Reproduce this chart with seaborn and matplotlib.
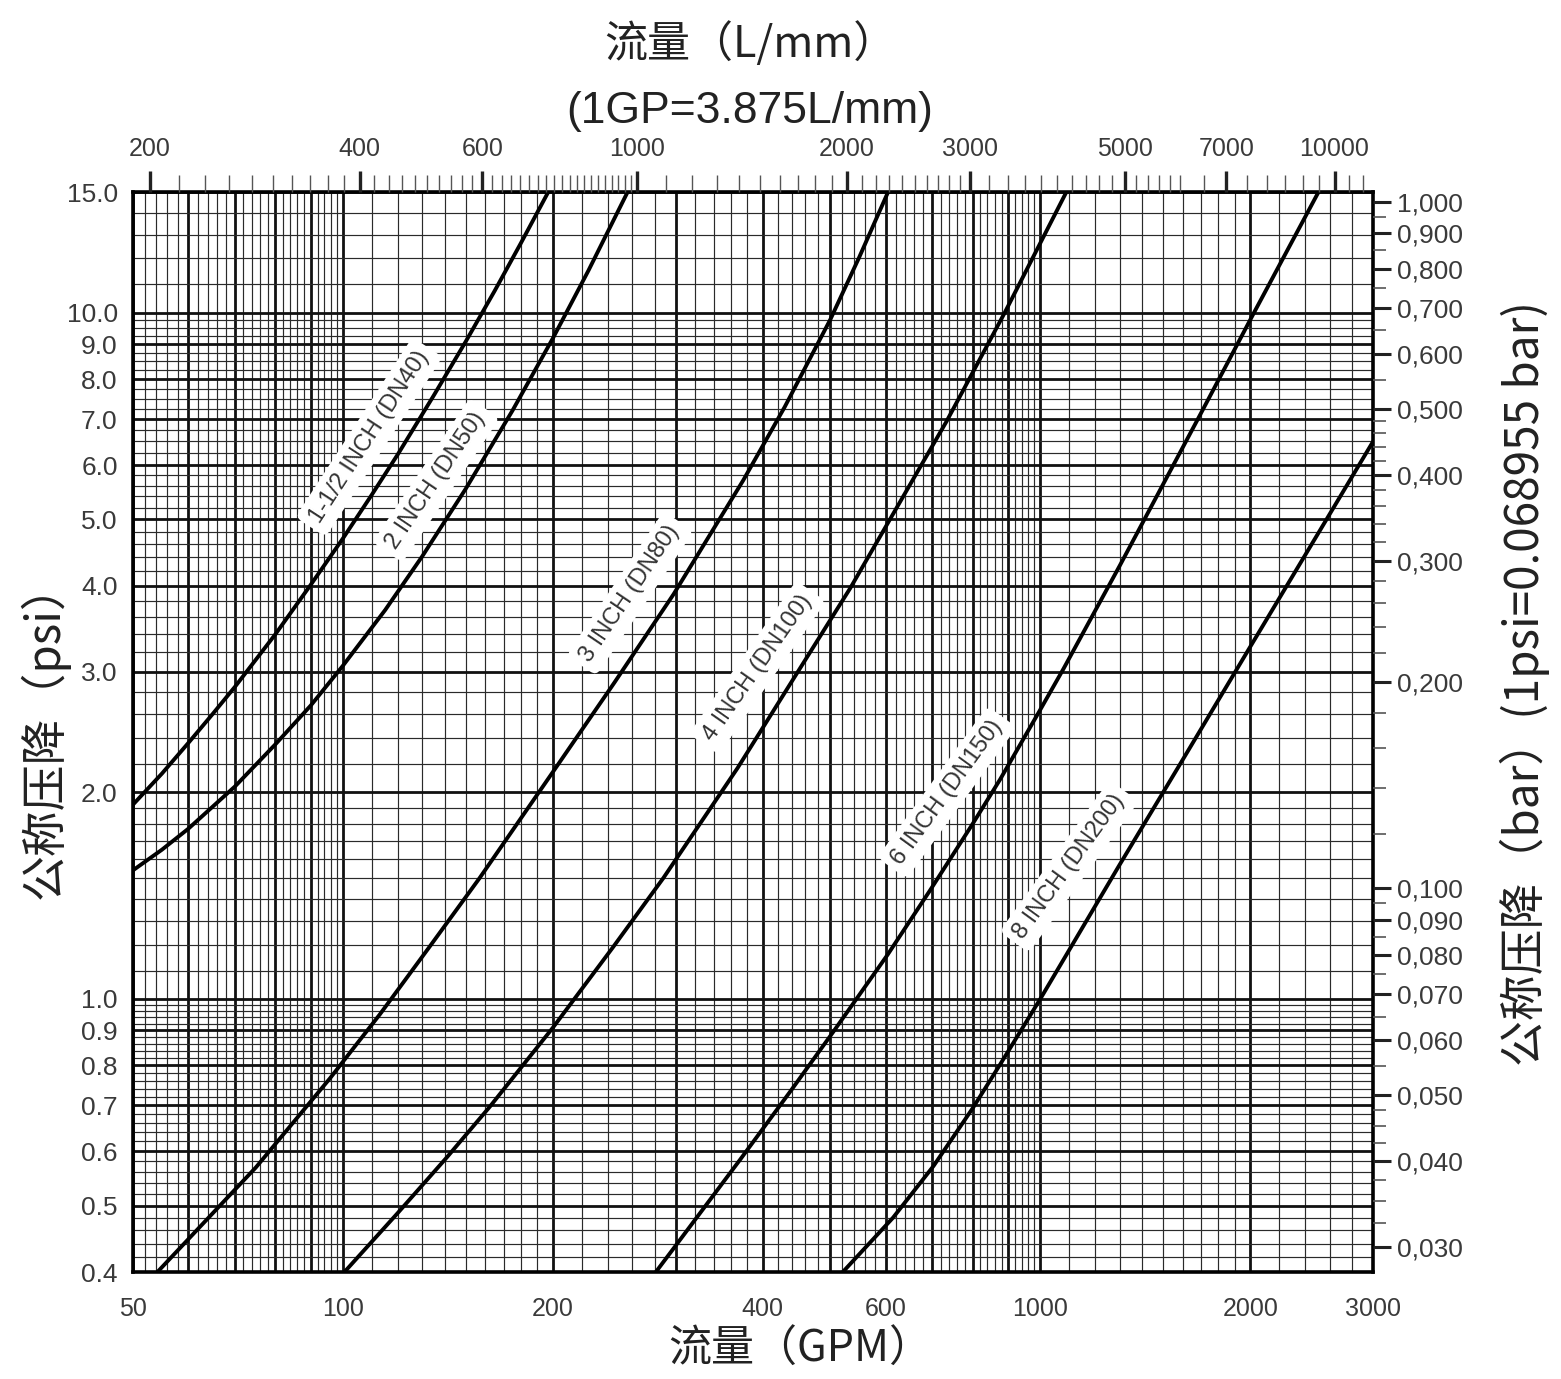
import numpy as np
import pandas as pd
import matplotlib
matplotlib.use("Agg")
import matplotlib.pyplot as plt
import seaborn as sns
from matplotlib.ticker import FixedLocator, FuncFormatter, NullFormatter

# ---------------- data ----------------
sizes = ["1-1/2 INCH (DN40)", "2 INCH (DN50)", "3 INCH (DN80)",
         "4 INCH (DN100)", "6 INCH (DN150)", "8 INCH (DN200)"]

gpm_dn40 = [50, 55, 60, 65, 70, 80, 90, 100, 110, 120, 135, 150, 165, 180, 197]
psi_dn40 = [1.92, 2.13, 2.36, 2.60, 2.85, 3.40, 4.02, 4.69, 5.43, 6.23, 7.58,
            9.08, 10.76, 12.64, 15.0]

gpm_dn50 = [50, 55, 60, 70, 80, 90, 100, 115, 130, 150, 175, 200, 225, 256]
psi_dn50 = [1.54, 1.65, 1.77, 2.04, 2.35, 2.68, 3.06, 3.69, 4.42, 5.54, 7.20,
            9.18, 11.53, 15.0]

gpm_dn80 = [54.2, 75, 95.8, 113, 133, 157, 198, 245, 298, 375, 430, 500, 550, 605]
psi_dn80 = [0.40, 0.568, 0.766, 0.95, 1.19, 1.50, 2.11, 2.89, 3.89, 5.70, 7.29,
            9.78, 12.05, 15.0]

gpm_dn100 = [100.5, 119.5, 141, 162.5, 200, 244, 288, 368, 534, 734, 889, 1090]
psi_dn100 = [0.40, 0.486, 0.588, 0.697, 0.908, 1.19, 1.50, 2.17, 3.97, 6.95,
             10.0, 15.0]

gpm_dn150 = [281, 298, 372, 438, 505, 604, 695, 800, 876, 1000, 1080, 1300, 1695,
             2030, 2506]
psi_dn150 = [0.40, 0.433, 0.585, 0.733, 0.896, 1.16, 1.44, 1.80, 2.09, 2.64, 3.03,
             4.28, 7.10, 10.05, 15.0]

gpm_dn200 = [521, 615, 703, 800, 876, 1000, 1300, 1587, 2000, 2500, 3000]
psi_dn200 = [0.40, 0.480, 0.571, 0.693, 0.803, 1.00, 1.57, 2.20, 3.26, 4.76, 6.49]

label_gpm = [109, 136, 258, 393, 735, 1100]
label_psi = [6.59, 5.70, 3.90, 3.04, 2.00, 1.56]
label_angle = [57, 56, 56, 55, 54, 54]

bottom_tick_labels = [50, 100, 200, 400, 600, 1000, 2000, 3000]
left_tick_labels = [0.4, 0.5, 0.6, 0.7, 0.8, 0.9, 1.0, 2.0, 3.0, 4.0, 5.0,
                    6.0, 7.0, 8.0, 9.0, 10.0, 15.0]
top_tick_labels = [200, 400, 600, 1000, 2000, 3000, 5000, 7000, 10000]
right_tick_labels = [0.03, 0.04, 0.05, 0.06, 0.07, 0.08, 0.09, 0.1, 0.2, 0.3,
                     0.4, 0.5, 0.6, 0.7, 0.8, 0.9, 1.0]

LPM_PER_GPM = 3.785
BAR_PER_PSI = 0.068955
X_MIN, X_MAX = 50, 3000
Y_MIN, Y_MAX = 0.4, 15.0

# ---------------- long-form table ----------------
series = [(gpm_dn40, psi_dn40), (gpm_dn50, psi_dn50), (gpm_dn80, psi_dn80),
          (gpm_dn100, psi_dn100), (gpm_dn150, psi_dn150), (gpm_dn200, psi_dn200)]
rows = []
for name, (g, p) in zip(sizes, series):
    for gi, pi in zip(g, p):
        rows.append({"size": name, "gpm": gi, "psi": pi})
df = pd.DataFrame(rows)

# ---------------- grid definitions ----------------
def rng(a, b, s):
    return list(np.round(np.arange(a, b + s / 2, s), 5))

x_major = [50, 60, 70, 80, 90, 100, 200, 300, 400, 500, 600, 700, 800, 900,
           1000, 2000, 3000]
x_all = rng(50, 100, 2) + rng(100, 200, 10) + rng(200, 1000, 20) + \
    rng(1000, 2000, 100) + rng(2000, 3000, 200)
x_minor = sorted(set(v for v in x_all if v not in x_major))

y_major = left_tick_labels
y_all = rng(0.4, 1.0, 0.02) + rng(1.0, 2.0, 0.1) + rng(2.0, 6.0, 0.2) + \
    rng(6.0, 10.0, 0.25) + rng(10.0, 15.0, 1.0)
y_minor = sorted(set(v for v in y_all if all(abs(v - m) > 1e-6 for m in y_major)))

top_all = rng(200, 1000, 20) + rng(1000, 3000, 100) + rng(3000, 6000, 200) + \
    rng(6000, 11000, 500)
top_minor = sorted(set(v for v in top_all if v not in top_tick_labels))

right_all = rng(0.0275, 0.05, 0.0025) + rng(0.05, 0.1, 0.005) + \
    rng(0.1, 0.5, 0.02) + rng(0.5, 1.0, 0.05)
right_minor = sorted(set(v for v in right_all
                         if all(abs(v - m) > 1e-6 for m in right_tick_labels)))

# ---------------- figure ----------------
sns.set_theme(style="white")
plt.rcParams["font.family"] = ["Liberation Sans", "Noto Sans CJK SC", "DejaVu Sans"]
CJK = ["Noto Sans CJK SC", "DejaVu Sans"]

fig = plt.figure(figsize=(15.61, 13.79), dpi=100)
ax = fig.add_axes([133 / 1561, 1 - 1272 / 1379, 1240 / 1561, 1080 / 1379])

sns.lineplot(data=df, x="gpm", y="psi", units="size", estimator=None,
             sort=False, color="black", lw=2.8, ax=ax, zorder=4)

ax.set_xscale("log")
ax.set_yscale("log")
ax.set_xlim(X_MIN, X_MAX)
ax.set_ylim(Y_MIN, Y_MAX)
ax.set_xlabel("")
ax.set_ylabel("")

ax.xaxis.set_major_locator(FixedLocator(x_major))
ax.xaxis.set_minor_locator(FixedLocator(x_minor))
ax.yaxis.set_major_locator(FixedLocator(y_major))
ax.yaxis.set_minor_locator(FixedLocator(y_minor))
ax.xaxis.set_major_formatter(FuncFormatter(
    lambda v, p: f"{int(round(v))}" if int(round(v)) in bottom_tick_labels else ""))
ax.xaxis.set_minor_formatter(NullFormatter())
ax.yaxis.set_major_formatter(FuncFormatter(lambda v, p: f"{v:.1f}"))
ax.yaxis.set_minor_formatter(NullFormatter())

ax.grid(True, which="major", color="#111111", lw=2.0, zorder=1)
ax.grid(True, which="minor", color="#2a2a2a", lw=0.85, zorder=1)
ax.set_axisbelow(True)

ax.tick_params(axis="x", which="both", length=0, pad=18, labelsize=18,
               labelcolor="#3a3a3a")
ax.tick_params(axis="y", which="both", length=0, pad=11, labelsize=19,
               labelcolor="#3a3a3a")
for s in ax.spines.values():
    s.set_color("black")
    s.set_linewidth(2.6)
    s.set_zorder(6)

# curve labels
for name, gx, py, ang in zip(sizes, label_gpm, label_psi, label_angle):
    ax.text(gx, py, name, rotation=ang, rotation_mode="anchor",
            ha="center", va="center", fontsize=17, color="#333333",
            family=["Liberation Sans", "DejaVu Sans"], zorder=5,
            bbox=dict(boxstyle="round,pad=0.3", fc="white", ec="none"))

# right axis: bar
axr = ax.twinx()
axr.set_yscale("log")
axr.set_ylim(Y_MIN * BAR_PER_PSI, Y_MAX * BAR_PER_PSI)
axr.yaxis.set_major_locator(FixedLocator(right_tick_labels))
axr.yaxis.set_minor_locator(FixedLocator(right_minor))
axr.yaxis.set_major_formatter(FuncFormatter(lambda v, p: f"{v:.3f}".replace(".", ",")))
axr.yaxis.set_minor_formatter(NullFormatter())
axr.tick_params(axis="y", which="major", direction="out", length=13, width=2.2,
                color="#222222", pad=4, labelsize=19, labelcolor="#3a3a3a")
axr.tick_params(axis="y", which="minor", direction="out", length=9, width=1.2,
                color="#555555")
axr.grid(False)
for s in axr.spines.values():
    s.set_visible(False)

# top axis: L/min
axt = ax.twiny()
axt.set_xscale("log")
axt.set_xlim(X_MIN * LPM_PER_GPM, X_MAX * LPM_PER_GPM)
axt.xaxis.set_major_locator(FixedLocator(top_tick_labels))
axt.xaxis.set_minor_locator(FixedLocator(top_minor))
axt.xaxis.set_major_formatter(FuncFormatter(lambda v, p: f"{int(round(v))}"))
axt.xaxis.set_minor_formatter(NullFormatter())
axt.tick_params(axis="x", which="major", direction="out", length=15, width=2.4,
                color="#222222", pad=7, labelsize=18, labelcolor="#3a3a3a")
axt.tick_params(axis="x", which="minor", direction="out", length=12, width=1.0,
                color="#555555")
axt.grid(False)
for s in axt.spines.values():
    s.set_visible(False)

# axis titles
fig.text(750 / 1561, 1 - 45 / 1379, "流量（L/mm）", ha="center", va="center",
         fontsize=31, color="#222222", family=CJK)
fig.text(750 / 1561, 1 - 112 / 1379, "(1GP=3.875L/mm)", ha="center", va="center",
         fontsize=32, color="#222222", family=["Liberation Sans", "DejaVu Sans"])
fig.text(800 / 1561, 1 - 1350 / 1379, "流量（GPM）", ha="center", va="center",
         fontsize=31, color="#222222", family=CJK)
fig.text(45 / 1561, 1 - 730 / 1379, "公称压降（psi）", ha="center", va="center",
         rotation=90, fontsize=33, color="#222222", family=CJK)
fig.text(1525 / 1561, 1 - 683 / 1379, "公称压降（bar）(1psi=0.068955 bar)",
         ha="center", va="center", rotation=90, fontsize=33, color="#222222",
         family=CJK)

fig.savefig("out.png", dpi=100)
